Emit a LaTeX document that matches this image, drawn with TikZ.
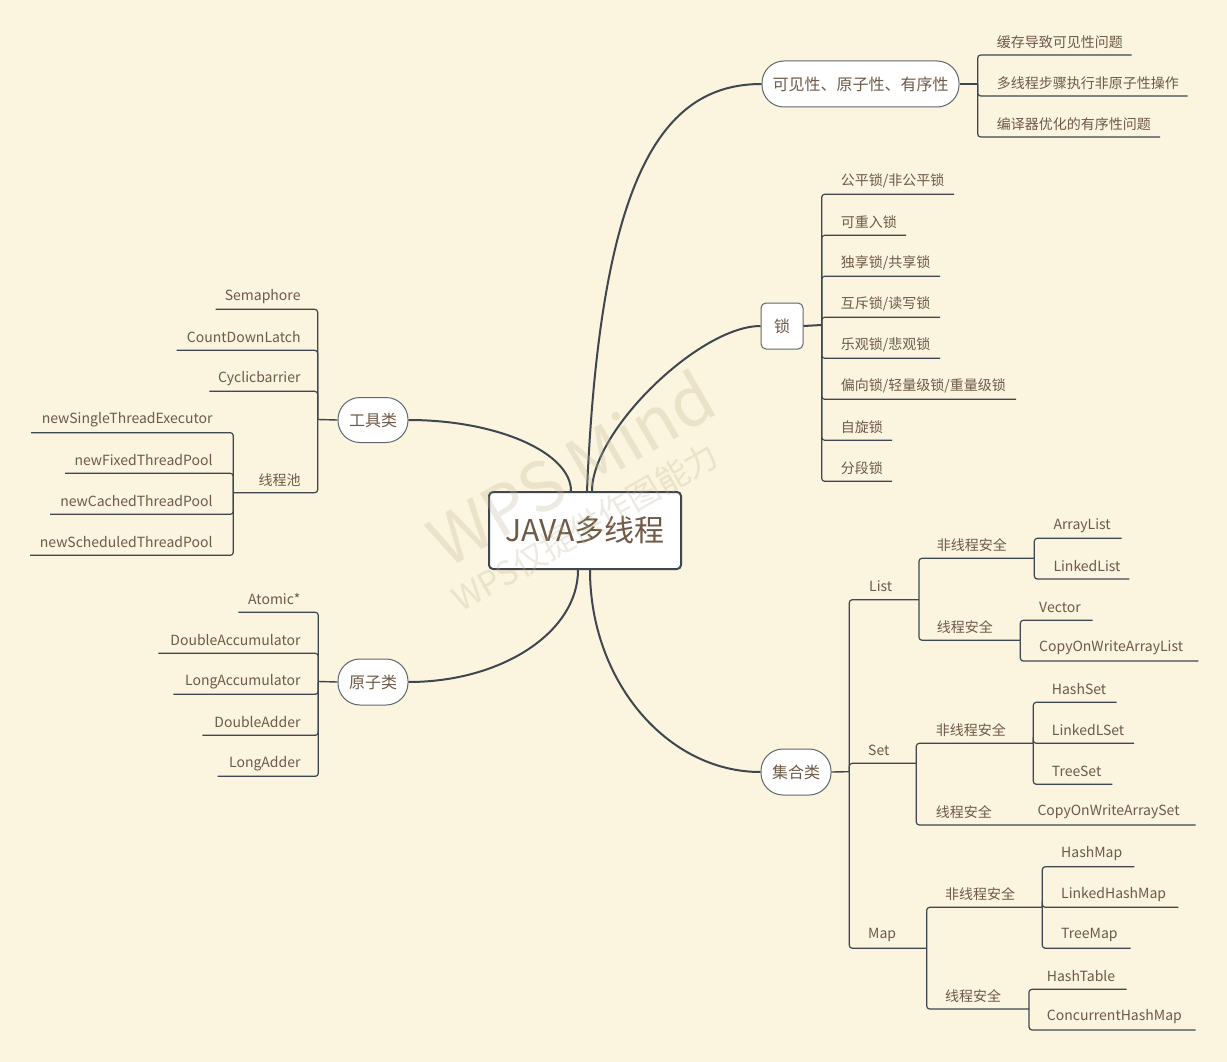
\documentclass[tikz,border=0pt]{standalone}
\usepackage{fontspec}
\setmainfont{Noto Sans CJK SC}
\definecolor{bg}{RGB}{251,244,222}
\definecolor{txt}{RGB}{110,90,70}
\definecolor{lnc}{RGB}{62,71,80}
\definecolor{bd}{RGB}{95,104,112}
\definecolor{wm}{RGB}{190,180,150}
\begin{document}
\begin{tikzpicture}[x=1pt,y=-1pt,
  leaf/.style={font=\fontsize{14}{16}\selectfont, text=txt, inner sep=0pt},
  topic/.style={draw=bd, line width=1pt, fill=white, font=\fontsize{16}{18}\selectfont, text=txt, inner sep=0pt},
  pill/.style={topic, rounded corners=22pt},
  br/.style={draw=lnc, line width=1.2pt, rounded corners=3pt},
  hline/.style={draw=lnc, line width=1.4pt},
  mainlink/.style={draw=lnc, line width=2pt},
  wmark/.style={rotate=30, text=wm, opacity=0.28, inner sep=0pt}]
\fill[bg] (0,0) rectangle (1227,1062);
\useasboundingbox (0,0) rectangle (1227,1062);

% ---------- main topics ----------
\node[draw=lnc, line width=2pt, fill=white, rounded corners=4pt, minimum width=192pt, minimum height=77pt, inner sep=0pt, text=txt, font=\fontsize{30}{33}\selectfont] (c) at (585,530.5) {JAVA多线程};
\node[pill, minimum width=197pt, minimum height=46pt] (vis) at (860.5,84) {可见性、原子性、有序性};
\node[topic, rounded corners=5pt, minimum width=42pt, minimum height=46pt] (lock) at (782,326) {锁};
\node[pill, minimum width=70pt, minimum height=45pt] (tool) at (373,420) {工具类};
\node[pill, minimum width=70pt, minimum height=46pt] (atom) at (373,682) {原子类};
\node[pill, minimum width=70pt, minimum height=46pt] (coll) at (796,772) {集合类};

\draw[mainlink] ([xshift=2pt]c.north) .. controls (600,180) and (660,84) .. (vis.west);
\draw[mainlink] ([xshift=7pt]c.north) .. controls (592,430) and (700,326) .. (lock.west);
\draw[mainlink] ([xshift=-14pt]c.north) .. controls (571,453) and (498,420) .. (tool.east);
\draw[mainlink] ([xshift=-7pt]c.south) .. controls (578,632) and (502,682) .. (atom.east);
\draw[mainlink] ([xshift=5pt]c.south) .. controls (590,681) and (667,772) .. (coll.west);

% ---------- 可见性 ----------
\coordinate (sV) at (977.7,84);
\draw[hline] (vis.east) -- (sV);
\node[leaf, anchor=west] (v1) at (996.7,42) {缓存导致可见性问题};
\node[leaf, anchor=west] (v2) at (996.7,83) {多线程步骤执行非原子性操作};
\node[leaf, anchor=west] (v3) at (996.7,124) {编译器优化的有序性问题};
\coordinate (v1e) at (1131.7,55);
\coordinate (v2e) at (1187.7,96);
\coordinate (v3e) at (1160,137);
\draw[br] (sV) |- (v1e);
\draw[br] (sV) |- (v2e);
\draw[br] (sV) |- (v3e);

% ---------- 锁 ----------
\coordinate (sL) at (821.7,325);
\draw[hline, line width=2pt] (lock.east) -- (sL);
\node[leaf, anchor=west] (l1) at (840.7,181.3) {公平锁/非公平锁};
\node[leaf, anchor=west] (l2) at (840.7,222.3) {可重入锁};
\node[leaf, anchor=west] (l3) at (840.7,263.3) {独享锁/共享锁};
\node[leaf, anchor=west] (l4) at (840.7,304.3) {互斥锁/读写锁};
\node[leaf, anchor=west] (l5) at (840.7,345.3) {乐观锁/悲观锁};
\node[leaf, anchor=west] (l6) at (840.7,386.3) {偏向锁/轻量级锁/重量级锁};
\node[leaf, anchor=west] (l7) at (840.7,427.3) {自旋锁};
\node[leaf, anchor=west] (l8) at (840.7,468.3) {分段锁};
\coordinate (l1e) at (954,194.3);
\coordinate (l2e) at (906,235.3);
\coordinate (l3e) at (940,276.3);
\coordinate (l4e) at (940,317.3);
\coordinate (l5e) at (940,358.3);
\coordinate (l6e) at (1016,399.3);
\coordinate (l7e) at (892,440.3);
\coordinate (l8e) at (892,481.3);
\foreach \i in {1,...,8} {\draw[br] (sL) |- (l\i e);}

% ---------- 工具类 ----------
\coordinate (sT) at (317.7,419.5);
\draw[hline] (tool.west) -- (sT);
\node[leaf, anchor=east] (t1) at (300.7,296.3) {Semaphore};
\node[leaf, anchor=east] (t2) at (300.7,337.3) {CountDownLatch};
\node[leaf, anchor=east] (t3) at (300.7,378.3) {Cyclicbarrier};
\node[leaf, anchor=east] (t4) at (300.7,479.7) {线程池};
\coordinate (t1e) at (215.7,309.3);
\coordinate (t2e) at (176.7,350.3);
\coordinate (t3e) at (209.3,391.3);
\coordinate (sP) at (233.3,492.7);
\draw[br] (sT) |- (t1e);
\draw[br] (sT) |- (t2e);
\draw[br] (sT) |- (t3e);
\draw[br] (sT) |- (sP);
\node[leaf, anchor=east] (p1) at (212.7,419.7) {newSingleThreadExecutor};
\node[leaf, anchor=east] (p2) at (212.7,460.3) {newFixedThreadPool};
\node[leaf, anchor=east] (p3) at (212.7,501.3) {newCachedThreadPool};
\node[leaf, anchor=east] (p4) at (212.7,542.3) {newScheduledThreadPool};
\coordinate (p1e) at (31,432.7);
\coordinate (p2e) at (65,473.3);
\coordinate (p3e) at (50,514.3);
\coordinate (p4e) at (30,555.3);
\foreach \i in {1,...,4} {\draw[br] (sP) |- (p\i e);}

% ---------- 原子类 ----------
\coordinate (sA) at (318.3,681.5);
\draw[hline] (atom.west) -- (sA);
\node[leaf, anchor=east] (a1) at (300.7,599.3) {Atomic*};
\node[leaf, anchor=east] (a2) at (300.7,640.3) {DoubleAccumulator};
\node[leaf, anchor=east] (a3) at (300.7,681.3) {LongAccumulator};
\node[leaf, anchor=east] (a4) at (300.7,722.3) {DoubleAdder};
\node[leaf, anchor=east] (a5) at (300.7,763.3) {LongAdder};
\coordinate (a1e) at (238.3,612.3);
\coordinate (a2e) at (158.3,653.3);
\coordinate (a3e) at (173.3,694.3);
\coordinate (a4e) at (202.3,735.3);
\coordinate (a5e) at (217.7,776.3);
\foreach \i in {1,...,5} {\draw[br] (sA) |- (a\i e);}

% ---------- 集合类 ----------
\coordinate (sJ) at (849.3,771.7);
\draw[hline] (coll.east) -- (sJ);
\node[leaf, anchor=west] (list) at (869,586.3) {List};
\node[leaf, anchor=west] (set) at (868,750) {Set};
\node[leaf, anchor=west] (map) at (868,935) {Map};
\coordinate (sList) at (919,599.7);
\coordinate (sSet) at (916.3,763.3);
\coordinate (sMap) at (926.7,948.3);
\draw[br] (sJ) |- (sList);
\draw[br] (sJ) |- (sSet);
\draw[br] (sJ) |- (sMap);

% List
\node[leaf, anchor=west] (ln) at (936.7,545.3) {非线程安全};
\node[leaf, anchor=west] (ls) at (936.7,627.3) {线程安全};
\coordinate (sLN) at (1034.3,558.3);
\coordinate (sLS) at (1020.3,640.3);
\draw[br] (sList) |- (sLN);
\draw[br] (sList) |- (sLS);
\node[leaf, anchor=west] (al) at (1053.3,525.3) {ArrayList};
\node[leaf, anchor=west] (ll) at (1053.3,566) {LinkedList};
\coordinate (ale) at (1121.7,538.3);
\coordinate (lle) at (1129.3,579);
\draw[br] (sLN) |- (ale);
\draw[br] (sLN) |- (lle);
\node[leaf, anchor=west] (vec) at (1039,607.3) {Vector};
\node[leaf, anchor=west] (cowal) at (1039,648) {CopyOnWriteArrayList};
\coordinate (vece) at (1092.7,620.3);
\coordinate (cowale) at (1198.3,661);
\draw[br] (sLS) |- (vece);
\draw[br] (sLS) |- (cowale);

% Set
\node[leaf, anchor=west] (sn) at (935.7,730.3) {非线程安全};
\node[leaf, anchor=west] (ss) at (935.7,812) {线程安全};
\coordinate (sSN) at (1033.3,743.3);
\coordinate (cowase) at (1195.7,825);
\draw[br] (sSet) |- (sSN);
\draw[br] (sSet) |- (cowase);
\node[leaf, anchor=west] (cowas) at (1037.3,812) {CopyOnWriteArraySet};
\node[leaf, anchor=west] (hs) at (1051.7,689.3) {HashSet};
\node[leaf, anchor=west] (lks) at (1051.7,730.3) {LinkedLSet};
\node[leaf, anchor=west] (ts) at (1051.7,771.3) {TreeSet};
\coordinate (hse) at (1116.7,702.3);
\coordinate (lkse) at (1134,743.3);
\coordinate (tse) at (1112.3,784.3);
\draw[br] (sSN) |- (hse);
\draw[br] (sSN) |- (lkse);
\draw[br] (sSN) |- (tse);

% Map
\node[leaf, anchor=west] (mn) at (945,894.3) {非线程安全};
\node[leaf, anchor=west] (ms) at (945,996) {线程安全};
\coordinate (sMN) at (1042.3,907.3);
\coordinate (sMS) at (1029,1009);
\draw[br] (sMap) |- (sMN);
\draw[br] (sMap) |- (sMS);
\node[leaf, anchor=west] (hm) at (1061,853.7) {HashMap};
\node[leaf, anchor=west] (lhm) at (1061,894.3) {LinkedHashMap};
\node[leaf, anchor=west] (tm) at (1061,935.3) {TreeMap};
\coordinate (hme) at (1134.3,866.7);
\coordinate (lhme) at (1178.3,907.3);
\coordinate (tme) at (1130.7,948.3);
\draw[br] (sMN) |- (hme);
\draw[br] (sMN) |- (lhme);
\draw[br] (sMN) |- (tme);
\node[leaf, anchor=west] (ht) at (1046.7,976.3) {HashTable};
\node[leaf, anchor=west] (chm) at (1046.7,1017) {ConcurrentHashMap};
\coordinate (hte) at (1126.7,989.3);
\coordinate (chme) at (1195.7,1030);
\draw[br] (sMS) |- (hte);
\draw[br] (sMS) |- (chme);

% ---------- watermark ----------
\node[wmark, font=\fontsize{68}{74}\selectfont] (wm1) at (571,468) {WPS Mind};
\node[wmark, font=\fontsize{33}{36}\selectfont] (wm2) at (585,527) {WPS仅提供作图能力};
\end{tikzpicture}
\end{document}
